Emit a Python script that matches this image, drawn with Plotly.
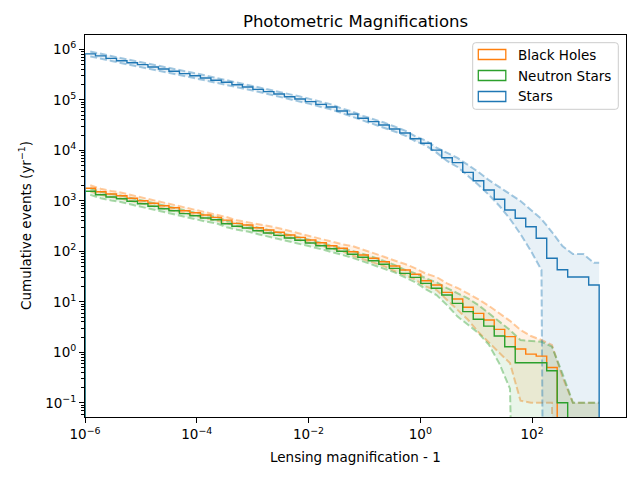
import numpy as np
import plotly.graph_objects as go

# 49 log-spaced magnification bins, 1e-6 .. ~1.6e3
bin_edges = np.logspace(-6, 3.2, 50)

# cumulative events per year (0 = empty bin)
stars = [810000, 740000, 660000, 595000, 540000, 496000, 447000, 407000, 367000, 329000,
         300000, 270000, 243000, 222000, 199000, 179000, 161000, 145000, 130000, 115000,
         104000, 92000, 81000, 72000, 60000, 52000, 43000, 37000, 31600, 26400,
         22000, 16900, 13800, 10100, 7100, 5700, 3660, 2500, 1640, 1070,
         658, 450, 307, 181, 73, 43, 31, 31, 21.5]
stars_hi = [907000, 829000, 739000, 666000, 605000, 556000, 501000, 456000, 411000, 368000,
            336000, 302000, 272000, 249000, 223000, 200000, 180000, 162000, 146000, 129000,
            116000, 103000, 91000, 81000, 67000, 58000, 48000, 41500, 35400, 29600,
            24600, 18900, 15500, 11300, 8850, 7050, 5120, 3720, 2560, 1875,
            1365, 991, 658, 436, 241, 127, 88, 88, 59]
stars_lo = [723000, 661000, 589000, 531000, 482000, 443000, 399000, 363000, 328000, 294000,
            268000, 241000, 217000, 198000, 178000, 160000, 144000, 129000, 116000, 103000,
            93000, 82000, 72000, 64000, 54000, 46000, 38400, 33000, 28200, 23600,
            19600, 15100, 12300, 9000, 6140, 4670, 3100, 2055, 1300, 789,
            436, 220, 101, 42.7, 0, 0, 0, 0, 0]

black_holes = [1770, 1514, 1364, 1262, 1122, 1005, 892, 800, 730, 637,
               581, 524, 470, 415, 358, 332, 293, 264, 238, 210,
               189, 167, 148, 129, 115, 98, 84.5, 72.7, 62.2, 51.2,
               42.7, 35.1, 26.2, 21.5, 15.4, 11.4, 7.8, 5.9, 4.36, 2.85,
               2.04, 1.16, 0.92, 0.84, 0.50, 0, 0, 0, 0]
black_holes_hi = [2030, 1737, 1565, 1448, 1287, 1153, 1023, 918, 837, 731,
                  666, 601, 539, 476, 411, 381, 352, 317, 286, 252,
                  227, 200, 178, 155, 138, 127, 109, 92.5, 78, 65.8,
                  56.1, 46, 36, 31, 23.2, 18.8, 14.7, 11.2, 8.3, 5.9,
                  4.2, 2.77, 2.1, 1.75, 1.4, 0.33, 0.1, 0.1, 0.1]
black_holes_lo = [1543, 1320, 1189, 1100, 978, 876, 778, 697, 636, 555,
                  506, 457, 410, 362, 312, 289, 255, 230, 207, 183,
                  165, 146, 129, 112, 100, 81.8, 70.3, 60.5, 50.7, 40.7,
                  34, 27.3, 19.9, 17.1, 10.9, 6.9, 4.4, 2.5, 1.53, 0.97,
                  0.61, 0.11, 0.1, 0.1, 0.1, 0, 0, 0, 0]

neutron_stars = [1541, 1320, 1189, 1101, 978, 877, 778, 698, 637, 556,
                 507, 457, 422, 352, 313, 289, 256, 230, 207, 183,
                 165, 146, 129, 112, 100, 87.3, 76, 65.2, 55.3, 46,
                 36.6, 30.5, 23.2, 18.5, 13.6, 9.3, 6.4, 4.5, 3.3, 2.1,
                 1.29, 0.62, 0.62, 0.62, 0.43, 0.1, 0, 0, 0]
neutron_stars_hi = [1768, 1514, 1364, 1263, 1122, 1006, 892, 801, 731, 638,
                    582, 524, 484, 404, 359, 331, 294, 264, 237, 210,
                    189, 167, 148, 128, 115, 102, 89, 76.5, 65, 54,
                    43, 36.6, 29.1, 24.3, 18.7, 14.7, 11.7, 8.6, 5.9, 4.04,
                    2.77, 1.75, 1.7, 1.62, 1.29, 0.38, 0.1, 0.1, 0.1]
neutron_stars_lo = [1313, 1124, 1013, 938, 833, 747, 663, 595, 543, 474,
                    432, 389, 359, 300, 267, 246, 218, 196, 176, 156,
                    141, 124, 110, 95, 85, 74, 63.3, 53.4, 46, 38.3,
                    30.5, 24.3, 17.6, 13.6, 8.6, 5.1, 3.5, 2.4, 1.4, 0.59,
                    0.19, 0, 0, 0, 0, 0, 0, 0, 0]

labels = ["Black Holes", "Neutron Stars", "Stars"]
colors = ["#ff7f0e", "#2ca02c", "#1f77b4"]
rgb = {"#ff7f0e": "255,127,14", "#2ca02c": "44,160,44", "#1f77b4": "31,119,180"}

FLOOR = 1e-30  # empty bins clipped far below the axis, like matplotlib's log clip
FONT = "DejaVu Sans"

W, H = 640, 480
L, R, T, B = 85, 14, 35, 63
PW, PH = W - L - R, H - T - B

centers = np.sqrt(bin_edges[:-1] * bin_edges[1:])


def clip(vals):
    return [v if v > 0 else FLOOR for v in vals]


def step_xy(vals):
    v = clip(vals)
    x = [bin_edges[0]] + list(bin_edges) + [bin_edges[-1]]
    y = [FLOOR] + v + [v[-1], FLOOR]
    return x, y


def band_xy(vals):
    v = clip(vals)
    return list(centers) + [bin_edges[-1]], v + [v[-1]]


fig = go.Figure()

series = [
    (black_holes, black_holes_lo, black_holes_hi),
    (neutron_stars, neutron_stars_lo, neutron_stars_hi),
    (stars, stars_lo, stars_hi),
]

for (main, lo, hi), c in zip(series, colors):
    dash_line = dict(color=f"rgba({rgb[c]},0.4)", width=2, dash="7px,3px")
    x, y = band_xy(lo)
    fig.add_trace(go.Scatter(x=x, y=y, mode="lines", line=dash_line,
                             showlegend=False, hoverinfo="skip"))
    x, y = band_xy(hi)
    fig.add_trace(go.Scatter(x=x, y=y, mode="lines", line=dash_line, fill="tonexty",
                             fillcolor=f"rgba({rgb[c]},0.1)",
                             showlegend=False, hoverinfo="skip"))

for (main, lo, hi), c, name in zip(series, colors, labels):
    x, y = step_xy(main)
    fig.add_trace(go.Scatter(x=x, y=y, mode="lines", name=name,
                             line=dict(color=c, width=1.4, shape="hv"),
                             showlegend=False))

x_ticks = [1e-6, 1e-4, 1e-2, 1, 1e2]
x_ticktext = ["10<sup>\u22126</sup>", "10<sup>\u22124</sup>", "10<sup>\u22122</sup>",
              "10<sup>0</sup>", "10<sup>2</sup>"]
y_ticks = [1e-1, 1, 1e1, 1e2, 1e3, 1e4, 1e5, 1e6]
y_ticktext = ["10<sup>\u22121</sup>", "10<sup>0</sup>", "10<sup>1</sup>", "10<sup>2</sup>",
              "10<sup>3</sup>", "10<sup>4</sup>", "10<sup>5</sup>", "10<sup>6</sup>"]
y_minor = [m * 10.0 ** e for e in range(-2, 7) for m in range(2, 10)]

axis_common = dict(type="log", showline=True, mirror=True, linecolor="black", linewidth=1.1,
                   ticks="outside", ticklen=5, tickwidth=1.1, tickcolor="black",
                   showgrid=False, zeroline=False, tickmode="array",
                   tickfont=dict(family=FONT, size=13.5, color="black"))

fig.update_xaxes(range=[-6, 3.68], tickvals=x_ticks, ticktext=x_ticktext, **axis_common)
fig.update_yaxes(range=[-1.281, 6.283], tickvals=y_ticks, ticktext=y_ticktext,
                 minor=dict(tickmode="array", tickvals=y_minor, ticks="outside",
                            ticklen=3, tickwidth=0.8, tickcolor="black"),
                 **axis_common)


def px_x(px):
    return (px - L) / PW


def px_y(py):
    return (H - B - py) / PH


# legend drawn by hand: rounded frame, outlined patches, labels
lx0, lx1, ly0, ly1, rad = 472.7, 618.3, 42.7, 109.3, 3
rx, ry = rad / PW, rad / PH
a, b, c0, d = px_x(lx0), px_x(lx1), px_y(ly1), px_y(ly0)
frame = (f"M {a + rx} {c0} L {b - rx} {c0} Q {b} {c0} {b} {c0 + ry} "
         f"L {b} {d - ry} Q {b} {d} {b - rx} {d} L {a + rx} {d} Q {a} {d} {a} {d - ry} "
         f"L {a} {c0 + ry} Q {a} {c0} {a + rx} {c0} Z")
shapes = [dict(type="path", xref="paper", yref="paper", path=frame,
               fillcolor="rgba(255,255,255,0.8)", line=dict(color="#cccccc", width=1))]
annotations = []
for i, (name, c) in enumerate(zip(labels, colors)):
    cy = 54.5 + 21 * i
    shapes.append(dict(type="rect", xref="paper", yref="paper",
                       x0=px_x(478.3), x1=px_x(505.8), y0=px_y(cy + 5), y1=px_y(cy - 5),
                       line=dict(color=c, width=1.3), fillcolor="rgba(0,0,0,0)"))
    annotations.append(dict(x=px_x(516), y=px_y(cy), xref="paper", yref="paper",
                            text=name, showarrow=False, xanchor="left", yanchor="middle",
                            font=dict(family=FONT, size=13.5, color="black")))

annotations.append(dict(x=0.5, y=px_y(457), xref="paper", yref="paper",
                        text="Lensing magnification - 1", showarrow=False,
                        xanchor="center", yanchor="middle",
                        font=dict(family=FONT, size=13.5, color="black")))
annotations.append(dict(x=px_x(25), y=0.5, xref="paper", yref="paper",
                        text="Cumulative events (yr<sup>\u22121</sup>)", showarrow=False,
                        textangle=-90, xanchor="center", yanchor="middle",
                        font=dict(family=FONT, size=13.5, color="black")))

fig.update_layout(
    width=W, height=H,
    margin=dict(l=L, r=R, t=T, b=B),
    paper_bgcolor="white", plot_bgcolor="white",
    title=dict(text="Photometric Magnifications", x=0.5, xref="paper",
               y=1 - 21 / H, yref="container", xanchor="center", yanchor="middle",
               font=dict(family=FONT, size=16.5, color="black")),
    shapes=shapes, annotations=annotations,
    showlegend=False,
)

# page body margin would shift the figure by 8px
fig.write_html("out.html", config={"displayModeBar": False},
               post_script="document.body.style.margin='0';")
